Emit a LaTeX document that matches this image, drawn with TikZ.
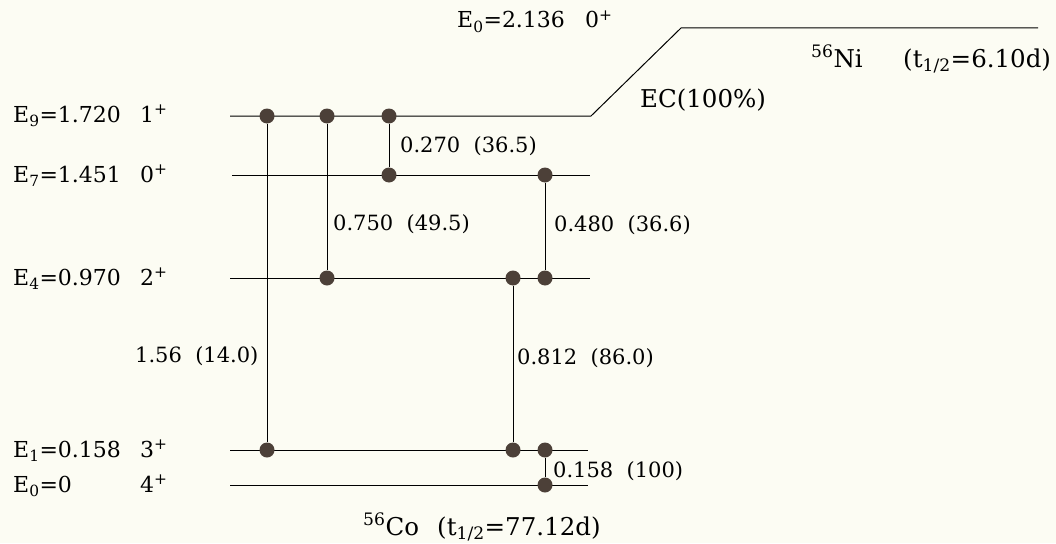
\documentclass[tikz,border=0pt]{standalone}
\usepackage{fontspec}
\setmainfont{DejaVu Serif}
\definecolor{paper}{RGB}{252,252,243}
\definecolor{dotbrown}{RGB}{76,64,56}
\tikzset{
  level/.style={line width=1pt},
  gamline/.style={line width=0.8pt},
  dot/.style={circle,fill=dotbrown,inner sep=0pt,minimum size=15pt},
  elbl/.style={anchor=base west,inner sep=0pt,font=\fontsize{22}{26}\selectfont},
  tlbl/.style={anchor=base west,inner sep=0pt,font=\fontsize{24.5}{29}\selectfont},
  glbl/.style={anchor=base west,inner sep=0pt,font=\fontsize{21}{25}\selectfont},
}
\begin{document}
\begin{tikzpicture}[x=1pt,y=-1pt]
\fill[paper] (0,0) rectangle (1056,543);
\useasboundingbox (0,0) rectangle (1056,543);

\coordinate (N0a) at (681,28);
\coordinate (N0b) at (1038,28);
\coordinate (L9a) at (230,116);
\coordinate (L9b) at (591,116);
\coordinate (L7a) at (232,175);
\coordinate (L7b) at (590,175);
\coordinate (L4a) at (230,278);
\coordinate (L4b) at (590,278);
\coordinate (L1a) at (230,450);
\coordinate (L1b) at (588,450);
\coordinate (L0a) at (230,485);
\coordinate (L0b) at (588,485);

\draw[level] (L9a) -- (L9b) -- (N0a) -- (N0b);
\draw[level] (L7a) -- (L7b);
\draw[level] (L4a) -- (L4b);
\draw[level] (L1a) -- (L1b);
\draw[level] (L0a) -- (L0b);

\node[dot] (d9a) at (267,116) {};
\node[dot] (d9b) at (327,116) {};
\node[dot] (d9c) at (389,116) {};
\node[dot] (d7a) at (389,175) {};
\node[dot] (d7b) at (545,175) {};
\node[dot] (d4a) at (327,278) {};
\node[dot] (d4b) at (513,278) {};
\node[dot] (d4c) at (545,278) {};
\node[dot] (d1a) at (267,450) {};
\node[dot] (d1b) at (513,450) {};
\node[dot] (d1c) at (545,450) {};
\node[dot] (d0a) at (545,485) {};

\draw[gamline] (d9a) -- (d1a);
\draw[gamline] (d9b) -- (d4a);
\draw[gamline] (d9c) -- (d7a);
\draw[gamline] (d7b) -- (d4c);
\draw[gamline] (d4b) -- (d1b);
\draw[gamline] (d1c) -- (d0a);

\node[elbl] (t9) at (13,122) {E\textsubscript{9}=1.720};
\node[elbl] (s9) at (140,122) {1\textsuperscript{+}};
\node[elbl] (t7) at (13,182) {E\textsubscript{7}=1.451};
\node[elbl] (s7) at (140,182) {0\textsuperscript{+}};
\node[elbl] (t4) at (13,285) {E\textsubscript{4}=0.970};
\node[elbl] (s4) at (140,285) {2\textsuperscript{+}};
\node[elbl] (t1) at (13,457) {E\textsubscript{1}=0.158};
\node[elbl] (s1) at (140,457) {3\textsuperscript{+}};
\node[elbl] (t0) at (13,492) {E\textsubscript{0}=0};
\node[elbl] (s0) at (140,492) {4\textsuperscript{+}};

\node[elbl] (tn) at (457,28) {E\textsubscript{0}=2.136};
\node[elbl] (sn) at (585,28) {0\textsuperscript{+}};
\node[tlbl] (ni) at (811,67) {\textsuperscript{56}Ni};
\node[tlbl] (nih) at (903,67) {(t\textsubscript{1/2}=6.10d)};
\node[tlbl] (ec) at (640,107) {EC(100\%)};
\node[tlbl] (co) at (363,535) {\textsuperscript{56}Co};
\node[tlbl] (coh) at (437,535) {(t\textsubscript{1/2}=77.12d)};

\node[glbl] (g270) at (400,152) {0.270\ \ (36.5)};
\node[glbl] (g750) at (333,230) {0.750\ \ (49.5)};
\node[glbl] (g480) at (554,231) {0.480\ \ (36.6)};
\node[glbl] (g156) at (135,362) {1.56\ \ (14.0)};
\node[glbl] (g812) at (517,364) {0.812\ \ (86.0)};
\node[glbl] (g158) at (553,477) {0.158\ \ (100)};
\end{tikzpicture}
\end{document}
